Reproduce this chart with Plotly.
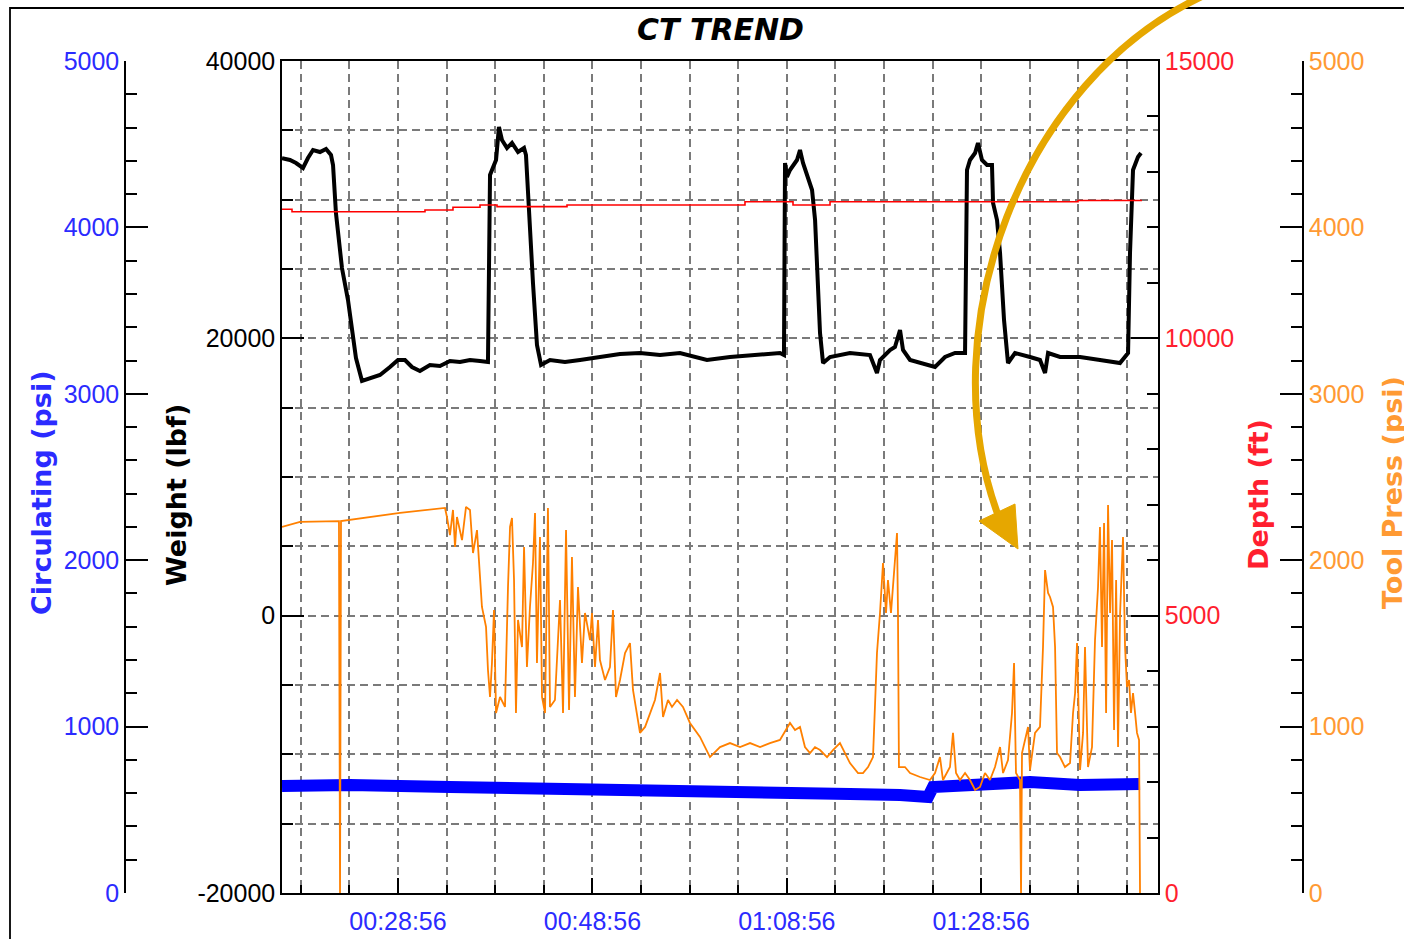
import numpy as np
import pandas as pd
import plotly.graph_objects as go

# ---------------- data (time in minutes after 00:00:00) ----------------
weight_t = [17.00, 17.82, 18.44, 19.16, 19.67, 20.19, 20.91, 21.53, 22.04, 22.25, 22.55, 23.17, 23.79,
            24.20, 24.61, 25.23, 26.05, 27.08, 28.11, 28.93, 29.65, 30.37, 31.19, 32.22, 33.25, 34.28,
            35.31, 36.34, 37.37, 38.19, 38.40, 38.71, 39.02, 39.32, 39.63, 40.15, 40.66, 41.28, 41.90,
            42.10, 42.41, 42.82, 43.23, 43.65, 44.57, 46.11, 47.66, 49.71, 51.77, 53.83, 55.89, 57.94,
            59.49, 60.72, 63.09, 65.66, 68.23, 68.64, 68.75, 68.95, 69.26, 69.98, 70.29, 70.60, 71.11,
            71.53, 71.84, 72.14, 72.35, 72.66, 73.38, 75.43, 77.49, 78.21, 78.52, 79.55, 80.06, 80.58,
            80.89, 81.61, 82.64, 84.18, 85.21, 86.24, 87.27, 87.47, 87.78, 88.30, 88.60, 89.01, 89.53,
            90.04, 90.15, 90.56, 90.87, 91.28, 91.69, 92.41, 93.95, 94.98, 95.50, 95.81, 97.04, 99.10,
            101.15, 103.21, 104.04, 104.24, 104.55, 105.06, 105.37]
weight_lbf = [33000, 32860, 32644, 32284, 33005, 33582, 33437, 33654, 33221, 32500, 29038, 25072, 22764,
              20600, 18582, 16923, 17140, 17356, 17933, 18438, 18438, 17933, 17645, 18077, 18005, 18366,
              18293, 18438, 18366, 18293, 31779, 32284, 32860, 35240, 34303, 33726, 34086, 33437, 33726,
              33221, 29038, 23990, 19519, 18077, 18438, 18293, 18438, 18654, 18870, 18942, 18798, 18942,
              18654, 18438, 18654, 18798, 18942, 18798, 32644, 31635, 32139, 32860, 33582, 32644, 31635,
              30697, 28533, 23702, 20385, 18221, 18654, 18942, 18798, 17500, 18438, 19159, 19375, 20601,
              19159, 18438, 18221, 17933, 18654, 18942, 18942, 32139, 32860, 33365, 34086, 32860, 32500,
              32500, 29759, 28533, 26153, 21322, 18221, 18942, 18654, 18438, 17500, 18942, 18654, 18654,
              18438, 18221, 18942, 26153, 32139, 33077, 33365]

circ_t = [17.00, 24.00, 34.28, 44.57, 54.86, 65.15, 75.43, 80.58, 83.46, 83.97, 88.81, 93.95, 99.10, 105.27]
circ_psi = [643, 649, 637, 631, 619, 607, 595, 589, 577, 637, 655, 667, 649, 655]

depth_t = [17.00, 18.03, 31.71, 34.59, 37.37, 39.12, 46.32, 64.63, 69.57, 73.38, 98.89, 105.47]
depth_ft = [12326, 12283, 12314, 12363, 12404, 12374, 12404, 12463, 12404, 12463, 12485, 12485]

tool_t = [17.00, 18.85, 22.86, 22.97, 23.07, 29.14, 33.77, 33.97, 34.28, 34.59, 34.80, 35.00, 35.52,
          35.93, 36.34, 36.65, 37.06, 37.37, 37.57, 37.99, 38.19, 38.40, 38.60, 38.81, 39.02, 39.43,
          39.94, 40.25, 40.46, 40.66, 40.87, 41.07, 41.28, 41.69, 41.90, 42.20, 42.51, 42.82, 43.03,
          43.23, 43.54, 43.75, 44.06, 44.36, 44.57, 45.08, 45.60, 45.91, 46.22, 46.53, 46.83, 47.14,
          47.45, 47.86, 48.17, 48.69, 48.89, 49.20, 49.51, 49.71, 50.23, 50.74, 51.05, 51.36, 51.77,
          52.29, 52.80, 53.11, 53.83, 54.35, 54.86, 55.37, 55.89, 56.20, 56.71, 57.12, 57.64, 58.25,
          58.97, 59.49, 60.00, 60.52, 61.03, 62.06, 63.09, 64.12, 65.15, 66.18, 67.20, 68.23, 69.26,
          69.78, 70.29, 70.80, 71.32, 71.83, 72.35, 73.07, 73.68, 74.40, 74.92, 75.43, 76.26, 76.77,
          77.29, 77.80, 78.00, 78.21, 78.52, 78.83, 79.14, 79.34, 79.65, 79.96, 80.27, 80.37, 80.47,
          81.09, 81.61, 82.64, 83.66, 84.18, 84.69, 85.00, 85.72, 86.03, 86.34, 86.75, 87.27, 87.78,
          88.30, 88.81, 89.32, 89.84, 90.35, 90.87, 91.18, 91.69, 92.10, 92.31, 92.51, 92.92, 93.03,
          93.13, 93.44, 93.75, 93.95, 94.47, 94.98, 95.29, 95.50, 95.81, 96.01, 96.32, 96.53, 96.73,
          97.04, 97.55, 98.07, 98.38, 98.59, 98.79, 99.10, 99.41, 99.61, 99.92, 100.33, 100.64, 100.95,
          101.15, 101.36, 101.57, 101.78, 101.98, 102.19, 102.39, 102.60, 102.81, 103.01, 103.22,
          103.52, 103.73, 103.93, 104.14, 104.34, 104.55, 104.76, 104.96, 105.17, 105.27]
tool_psi = [2200, 2230, 2235, 0, 2235, 2284, 2314, 2260, 2151, 2302, 2079, 2260, 2121,
            2320, 2302, 2043, 2181, 1923, 1719, 1599, 1340, 1178, 1382, 1701, 1082, 1178,
            1118, 1839, 2200, 2254, 1881, 1082, 1641, 1478, 2079, 1358, 1719, 1983, 2284,
            1382, 2139, 1178, 1082, 2314, 1118, 1160, 1761, 1082, 2181, 1100, 2019, 1178,
            1839, 1382, 1683, 1520, 1683, 1358, 1641, 1400, 1280, 1358, 1701, 1178, 1280,
            1442, 1502, 1220, 962, 998, 1082, 1160, 1322, 1058, 1160, 1118, 1160, 1118,
            1022, 980, 938, 877, 817, 877, 901, 877, 901, 877, 901, 920, 1022,
            980, 998, 877, 841, 877, 859, 817, 859, 901, 841, 781, 721, 721,
            757, 817, 1118, 1442, 1683, 1983, 1683, 1881, 1683, 1941, 2163, 1683, 757,
            757, 721, 697, 679, 721, 817, 679, 757, 962, 721, 679, 721, 679,
            619, 637, 721, 679, 757, 877, 721, 799, 1082, 1382, 721, 679, 0,
            841, 920, 998, 739, 962, 998, 1478, 1941, 1803, 1779, 1719, 1478, 841,
            817, 757, 781, 1082, 1202, 1502, 739, 962, 1478, 757, 877, 1520, 1839,
            2200, 1478, 2224, 1082, 2332, 1683, 2121, 980, 1881, 877, 1683,
            2139, 1478, 1238, 1280, 1082, 1202, 1082, 962, 920, 0]

x_tick_labels = ["00:28:56", "00:48:56", "01:08:56", "01:28:56"]
weight_ticks = [-20000, 0, 20000, 40000]
depth_ticks = [0, 5000, 10000, 15000]
psi_ticks = [0, 1000, 2000, 3000, 4000, 5000]

# ---------------- helpers ----------------
BASE = pd.Timestamp("2024-01-01")


def to_time(mins):
    return BASE + pd.to_timedelta(np.asarray(mins, dtype=float), unit="m")


TICK_FONT = "Liberation Sans, Arial, sans-serif"
TITLE_FONT = "DejaVu Sans, Verdana, sans-serif"
BLUE_TXT = "#2b2bff"
RED_TXT = "#ff1f2f"
ORANGE_TXT = "#ff9a33"

fig = go.Figure()

fig.add_trace(go.Scatter(x=to_time(weight_t), y=weight_lbf, mode="lines",
                         line=dict(color="black", width=4), yaxis="y", name="Weight"))
fig.add_trace(go.Scatter(x=to_time(circ_t), y=circ_psi, mode="lines",
                         line=dict(color="#0000ff", width=12), yaxis="y2", name="Circulating"))
fig.add_trace(go.Scatter(x=to_time(depth_t), y=depth_ft, mode="lines", line_shape="hv",
                         line=dict(color="#ff0000", width=1.6), yaxis="y3", name="Depth"))
fig.add_trace(go.Scatter(x=to_time(tool_t), y=tool_psi, mode="lines",
                         line=dict(color="#ff8000", width=1.8), yaxis="y4", name="Tool Press"))

tick_vals = [BASE + pd.Timedelta(hours=int(s[:2]), minutes=int(s[3:5]), seconds=int(s[6:]))
             for s in x_tick_labels]

L, R, T, B = 125, 101, 61, 46
W, H = 1404, 939
PW, PH = W - L - R, H - T - B


def px(x):
    return (x - L) / PW


def py(y):
    return (H - B - y) / PH


grid = dict(showgrid=True, gridcolor="#7a7a7a", gridwidth=1.5, griddash="8px,5px")

fig.update_layout(
    width=W, height=H,
    margin=dict(l=L, r=R, t=T, b=B, autoexpand=False),
    paper_bgcolor="white", plot_bgcolor="white",
    showlegend=False,
    xaxis=dict(
        type="date", domain=[px(282), px(1158)], automargin=False,
        range=[BASE + pd.Timedelta(minutes=17.0), BASE + pd.Timedelta(minutes=107.12)],
        tickmode="array", tickvals=tick_vals, ticktext=x_tick_labels,
        ticks="inside", ticklen=15, tickwidth=1.5, tickcolor="black",
        showline=True, linecolor="black", linewidth=1.5, mirror=True,
        tickfont=dict(family=TICK_FONT, size=25, color=BLUE_TXT),
        ticklabelstandoff=5,
        zeroline=False,
        minor=dict(dtick=300000, tick0=BASE + pd.Timedelta(minutes=28, seconds=56),
                   ticks="inside", ticklen=8, tickwidth=1.5, tickcolor="black", **grid),
        **grid,
    ),
    yaxis=dict(
        range=[-20000, 40000], tickmode="array", tickvals=weight_ticks,
        ticktext=[str(v) for v in weight_ticks], automargin=False,
        ticks="inside", ticklen=22, tickwidth=1.5, tickcolor="black",
        showline=True, linecolor="black", linewidth=1.5,
        tickfont=dict(family=TICK_FONT, size=25, color="black"),
        zeroline=False,
        minor=dict(dtick=5000, tick0=0, ticks="inside", ticklen=11, tickwidth=1.5, tickcolor="black", **grid),
        **grid,
    ),
    yaxis2=dict(
        overlaying="y", anchor="free", position=0, side="left", automargin=False,
        range=[0, 5000], tickmode="array", tickvals=psi_ticks, ticktext=[str(v) for v in psi_ticks],
        ticks="inside", ticklen=22, tickwidth=1.5, tickcolor="black",
        showline=True, linecolor="black", linewidth=1.5, showgrid=False, zeroline=False,
        tickfont=dict(family=TICK_FONT, size=25, color=BLUE_TXT),
        minor=dict(dtick=200, tick0=0, ticks="inside", ticklen=11, tickwidth=1.5, tickcolor="black", showgrid=False),
    ),
    yaxis3=dict(
        overlaying="y", anchor="x", side="right", automargin=False,
        range=[0, 15000], tickmode="array", tickvals=depth_ticks, ticktext=[str(v) for v in depth_ticks],
        ticks="inside", ticklen=27, tickwidth=1.5, tickcolor="black",
        showline=True, linecolor="black", linewidth=1.5, showgrid=False, zeroline=False,
        tickfont=dict(family=TICK_FONT, size=25, color=RED_TXT),
        minor=dict(dtick=1000, tick0=0, ticks="inside", ticklen=11, tickwidth=1.5, tickcolor="black", showgrid=False),
    ),
    yaxis4=dict(
        overlaying="y", anchor="free", position=1, side="right", automargin=False,
        range=[0, 5000], tickmode="array", tickvals=psi_ticks, ticktext=[str(v) for v in psi_ticks],
        ticks="inside", ticklen=22, tickwidth=1.5, tickcolor="black",
        showline=True, linecolor="black", linewidth=1.5, showgrid=False, zeroline=False,
        tickfont=dict(family=TICK_FONT, size=25, color=ORANGE_TXT),
        minor=dict(dtick=200, tick0=0, ticks="inside", ticklen=11, tickwidth=1.5, tickcolor="black", showgrid=False),
    ),
)

# Title and axis titles
annos = [
    dict(text="<b><i>CT TREND</i></b>", x=px(720), y=py(30), font=dict(family=TITLE_FONT, size=30, color="black"), textangle=0),
    dict(text="<b>Circulating (psi)</b>", x=px(42), y=py(493), font=dict(family=TITLE_FONT, size=27, color=BLUE_TXT), textangle=-90),
    dict(text="<b>Weight (lbf)</b>", x=px(176), y=py(495), font=dict(family=TITLE_FONT, size=27, color="black"), textangle=-90),
    dict(text="<b>Depth (ft)</b>", x=px(1258), y=py(495), font=dict(family=TITLE_FONT, size=27, color=RED_TXT), textangle=-90),
    dict(text="<b>Tool Press (psi)</b>", x=px(1393), y=py(493), font=dict(family=TITLE_FONT, size=27, color=ORANGE_TXT), textangle=-90),
]
for a in annos:
    fig.add_annotation(xref="paper", yref="paper", xanchor="center", yanchor="middle",
                       showarrow=False, **a)

# Outer frame
fig.add_shape(type="rect", xref="paper", yref="paper",
              x0=px(10), y0=py(960), x1=px(1420), y1=py(8),
              line=dict(color="black", width=1.8), layer="above")

# Gold annotation arrow
GOLD = "#e6a700"
p0, p1, p2, p3 = (1205, -5), (1020, 80), (930, 330), (998, 515)
path = "M {:.5f},{:.5f} C {:.5f},{:.5f} {:.5f},{:.5f} {:.5f},{:.5f}".format(
    px(p0[0]), py(p0[1]), px(p1[0]), py(p1[1]), px(p2[0]), py(p2[1]), px(p3[0]), py(p3[1]))
fig.add_shape(type="path", xref="paper", yref="paper", path=path,
              line=dict(color=GOLD, width=7), layer="above")
tip, ca, cb = (1018, 549), (979, 521), (1015, 504)
head = "M {:.5f},{:.5f} L {:.5f},{:.5f} L {:.5f},{:.5f} Z".format(
    px(tip[0]), py(tip[1]), px(ca[0]), py(ca[1]), px(cb[0]), py(cb[1]))
fig.add_shape(type="path", xref="paper", yref="paper", path=head,
              fillcolor=GOLD, line=dict(color=GOLD, width=1), layer="above")

fig.write_html("out.html", config={"displayModeBar": False})
